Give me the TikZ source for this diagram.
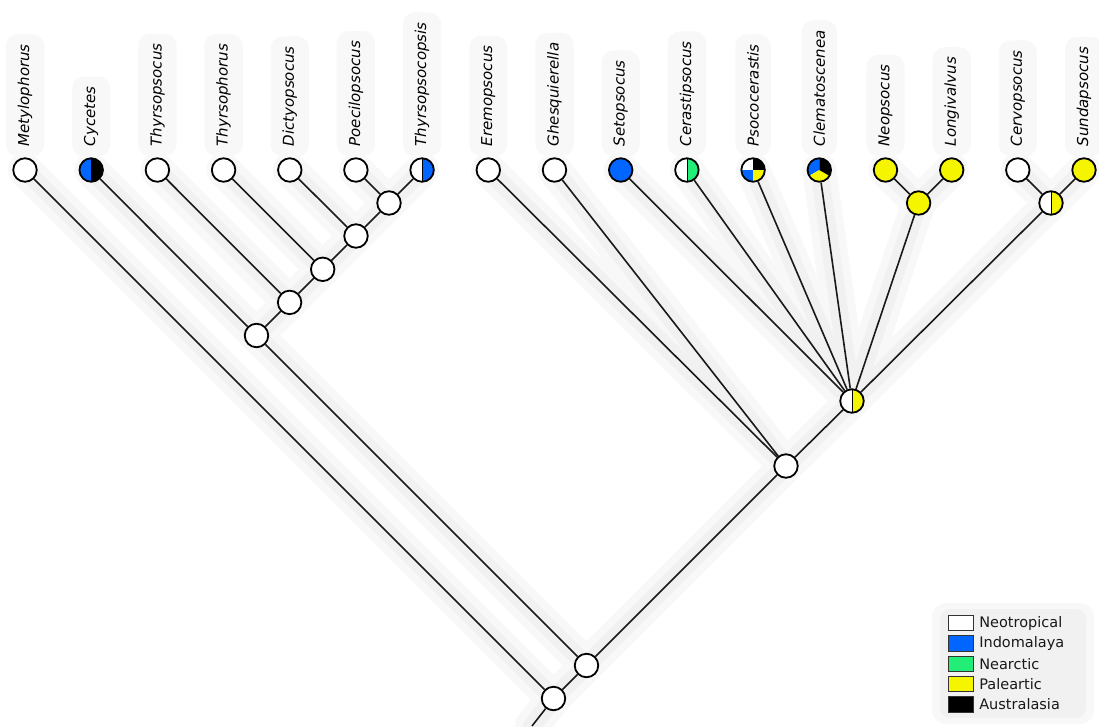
\documentclass[tikz,border=0pt]{standalone}
\usepackage{fontspec}
\setmainfont{DejaVu Sans}
\pgfdeclarelayer{bg}
\pgfsetlayers{bg,main}
\definecolor{cblue}{RGB}{0,102,255}
\definecolor{cgreen}{RGB}{34,238,119}
\definecolor{cyel}{RGB}{245,245,0}
\definecolor{edgec}{RGB}{25,25,25}
\definecolor{haloA}{RGB}{248,248,248}
\definecolor{haloB}{RGB}{241,241,241}
\tikzset{
  nd/.style={circle, draw=black, line width=1.8pt, minimum size=23.5pt, inner sep=0pt, fill=white},
  yel/.style={fill=cyel},
  blu/.style={fill=cblue},
  halves/.style 2 args={path picture={
    \fill[#1] (path picture bounding box.south west) rectangle (path picture bounding box.north);
    \fill[#2] (path picture bounding box.south) rectangle (path picture bounding box.north east);
    \draw[line width=0.5pt] (path picture bounding box.south) -- (path picture bounding box.north);}},
  quads/.style={path picture={
    \fill[white] (path picture bounding box.center) rectangle (path picture bounding box.north west);
    \fill[black] (path picture bounding box.center) rectangle (path picture bounding box.north east);
    \fill[cblue] (path picture bounding box.center) rectangle (path picture bounding box.south west);
    \fill[cyel] (path picture bounding box.center) rectangle (path picture bounding box.south east);}},
  thirds/.style={path picture={
    \fill[cblue] (path picture bounding box.center) -- ++(90:20pt) arc[start angle=90, end angle=210, radius=20pt] -- cycle;
    \fill[cyel] (path picture bounding box.center) -- ++(210:20pt) arc[start angle=210, end angle=330, radius=20pt] -- cycle;
    \fill[black] (path picture bounding box.center) -- ++(330:20pt) arc[start angle=330, end angle=450, radius=20pt] -- cycle;}},
  edge/.style={draw=edgec, line width=1.6pt},
  haloout/.style={draw=haloA, line width=34pt, line cap=round},
  haloin/.style={draw=haloB, line width=18pt, line cap=round},
  lab/.style={rotate=90, anchor=west, font=\fontsize{15}{15}\selectfont\itshape, text=black,
    fill=haloA, rounded corners=12pt, inner xsep=10pt, inner ysep=12pt},
  legbox/.style={draw=black!80, line width=1.2pt, minimum width=25pt, minimum height=15.5pt, inner sep=0pt},
  legtext/.style={anchor=west, font=\fontsize{14.5}{15}\selectfont, text=black!90, inner sep=0pt}
}
\begin{document}
\begin{tikzpicture}[x=1pt,y=-1pt]
\useasboundingbox (0,0) rectangle (1099,726);
% tips
\node[nd] (t1) at (25,170) {};
\node[nd, halves={cblue}{black}] (t2) at (91.2,170) {};
\node[nd] (t3) at (157.4,170) {};
\node[nd] (t4) at (223.6,170) {};
\node[nd] (t5) at (289.8,170) {};
\node[nd] (t6) at (355.9,170) {};
\node[nd, halves={white}{cblue}] (t7) at (422.1,170) {};
\node[nd] (t8) at (488.3,170) {};
\node[nd] (t9) at (554.5,170) {};
\node[nd, blu] (t10) at (620.7,170) {};
\node[nd, halves={white}{cgreen}] (t11) at (686.9,170) {};
\node[nd, quads] (t12) at (753.1,170) {};
\node[nd, thirds] (t13) at (819.3,170) {};
\node[nd, yel] (t14) at (885.5,170) {};
\node[nd, yel] (t15) at (951.7,170) {};
\node[nd] (t16) at (1017.8,170) {};
\node[nd, yel] (t17) at (1084,170) {};
% internal
\node[nd] (a1) at (389,203) {};
\node[nd] (a2) at (356,236) {};
\node[nd] (a3) at (322.7,269.3) {};
\node[nd] (a4) at (289.6,302.4) {};
\node[nd] (a5) at (256.5,335.5) {};
\node[nd] (r1) at (586.5,665.5) {};
\node[nd] (r0) at (553.5,698.5) {};
\node[nd] (b1) at (786,466) {};
\node[nd, halves={white}{cyel}] (b2) at (852,401) {};
\node[nd, yel] (b3) at (918.6,203) {};
\node[nd, halves={white}{cyel}] (b4) at (1051,203) {};
\coordinate (stub) at (532,726);
% labels
\foreach \t/\s in {t1/Metylophorus, t2/Cycetes, t3/Thyrsopsocus, t4/Thyrsophorus, t5/Dictyopsocus,
  t6/Poecilopsocus, t7/Thyrsopsocopsis, t8/Eremopsocus, t9/Ghesquierella, t10/Setopsocus,
  t11/Cerastipsocus, t12/Psococerastis, t13/Clematoscenea, t14/Neopsocus, t15/Longivalvus,
  t16/Cervopsocus, t17/Sundapsocus}
  \path (\t.center) ++(0,-13.5) node[lab] (l\t) {\s};
% edges
\foreach \a/\b in {t1/r0, r0/r1, r1/a5, a5/t2, a5/a4, a4/t3, a4/a3, a3/t4, a3/a2, a2/t5, a2/a1,
  a1/t6, a1/t7, r1/b1, b1/t8, b1/t9, b1/b2, b2/t10, b2/t11, b2/t12, b2/t13, b2/b3, b2/b4,
  b3/t14, b3/t15, b4/t16, b4/t17, r0/stub}{
  \draw[edge] (\a) -- (\b);
  \begin{pgfonlayer}{bg}
    \draw[haloout] (\a.center) -- (\b.center);
  \end{pgfonlayer}
}
\begin{pgfonlayer}{bg}
\foreach \a/\b in {t1/r0, r0/r1, r1/a5, a5/t2, a5/a4, a4/t3, a4/a3, a3/t4, a3/a2, a2/t5, a2/a1,
  a1/t6, a1/t7, r1/b1, b1/t8, b1/t9, b1/b2, b2/t10, b2/t11, b2/t12, b2/t13, b2/b3, b2/b4,
  b3/t14, b3/t15, b4/t16, b4/t17, r0/stub}{
  \draw[haloin] (\a.center) -- (\b.center);
}
\fill[haloA, rounded corners=14pt] (932,603) rectangle (1094,724);
\fill[haloB, rounded corners=10pt] (940,609) rectangle (1086,718);
\end{pgfonlayer}
% legend
\node[legbox, fill=white] (k1) at (961,623) {};
\node[legbox, fill=cblue] (k2) at (961,643.5) {};
\node[legbox, fill=cgreen] (k3) at (961,664) {};
\node[legbox, fill=cyel] (k4) at (961,684) {};
\node[legbox, fill=black] (k5) at (961,704.5) {};
\node[legtext] (kt1) at ([xshift=5pt]k1.east) {Neotropical};
\node[legtext] (kt2) at ([xshift=5pt]k2.east) {Indomalaya};
\node[legtext] (kt3) at ([xshift=5pt]k3.east) {Nearctic};
\node[legtext] (kt4) at ([xshift=5pt]k4.east) {Paleartic};
\node[legtext] (kt5) at ([xshift=5pt]k5.east) {Australasia};
\end{tikzpicture}
\end{document}
